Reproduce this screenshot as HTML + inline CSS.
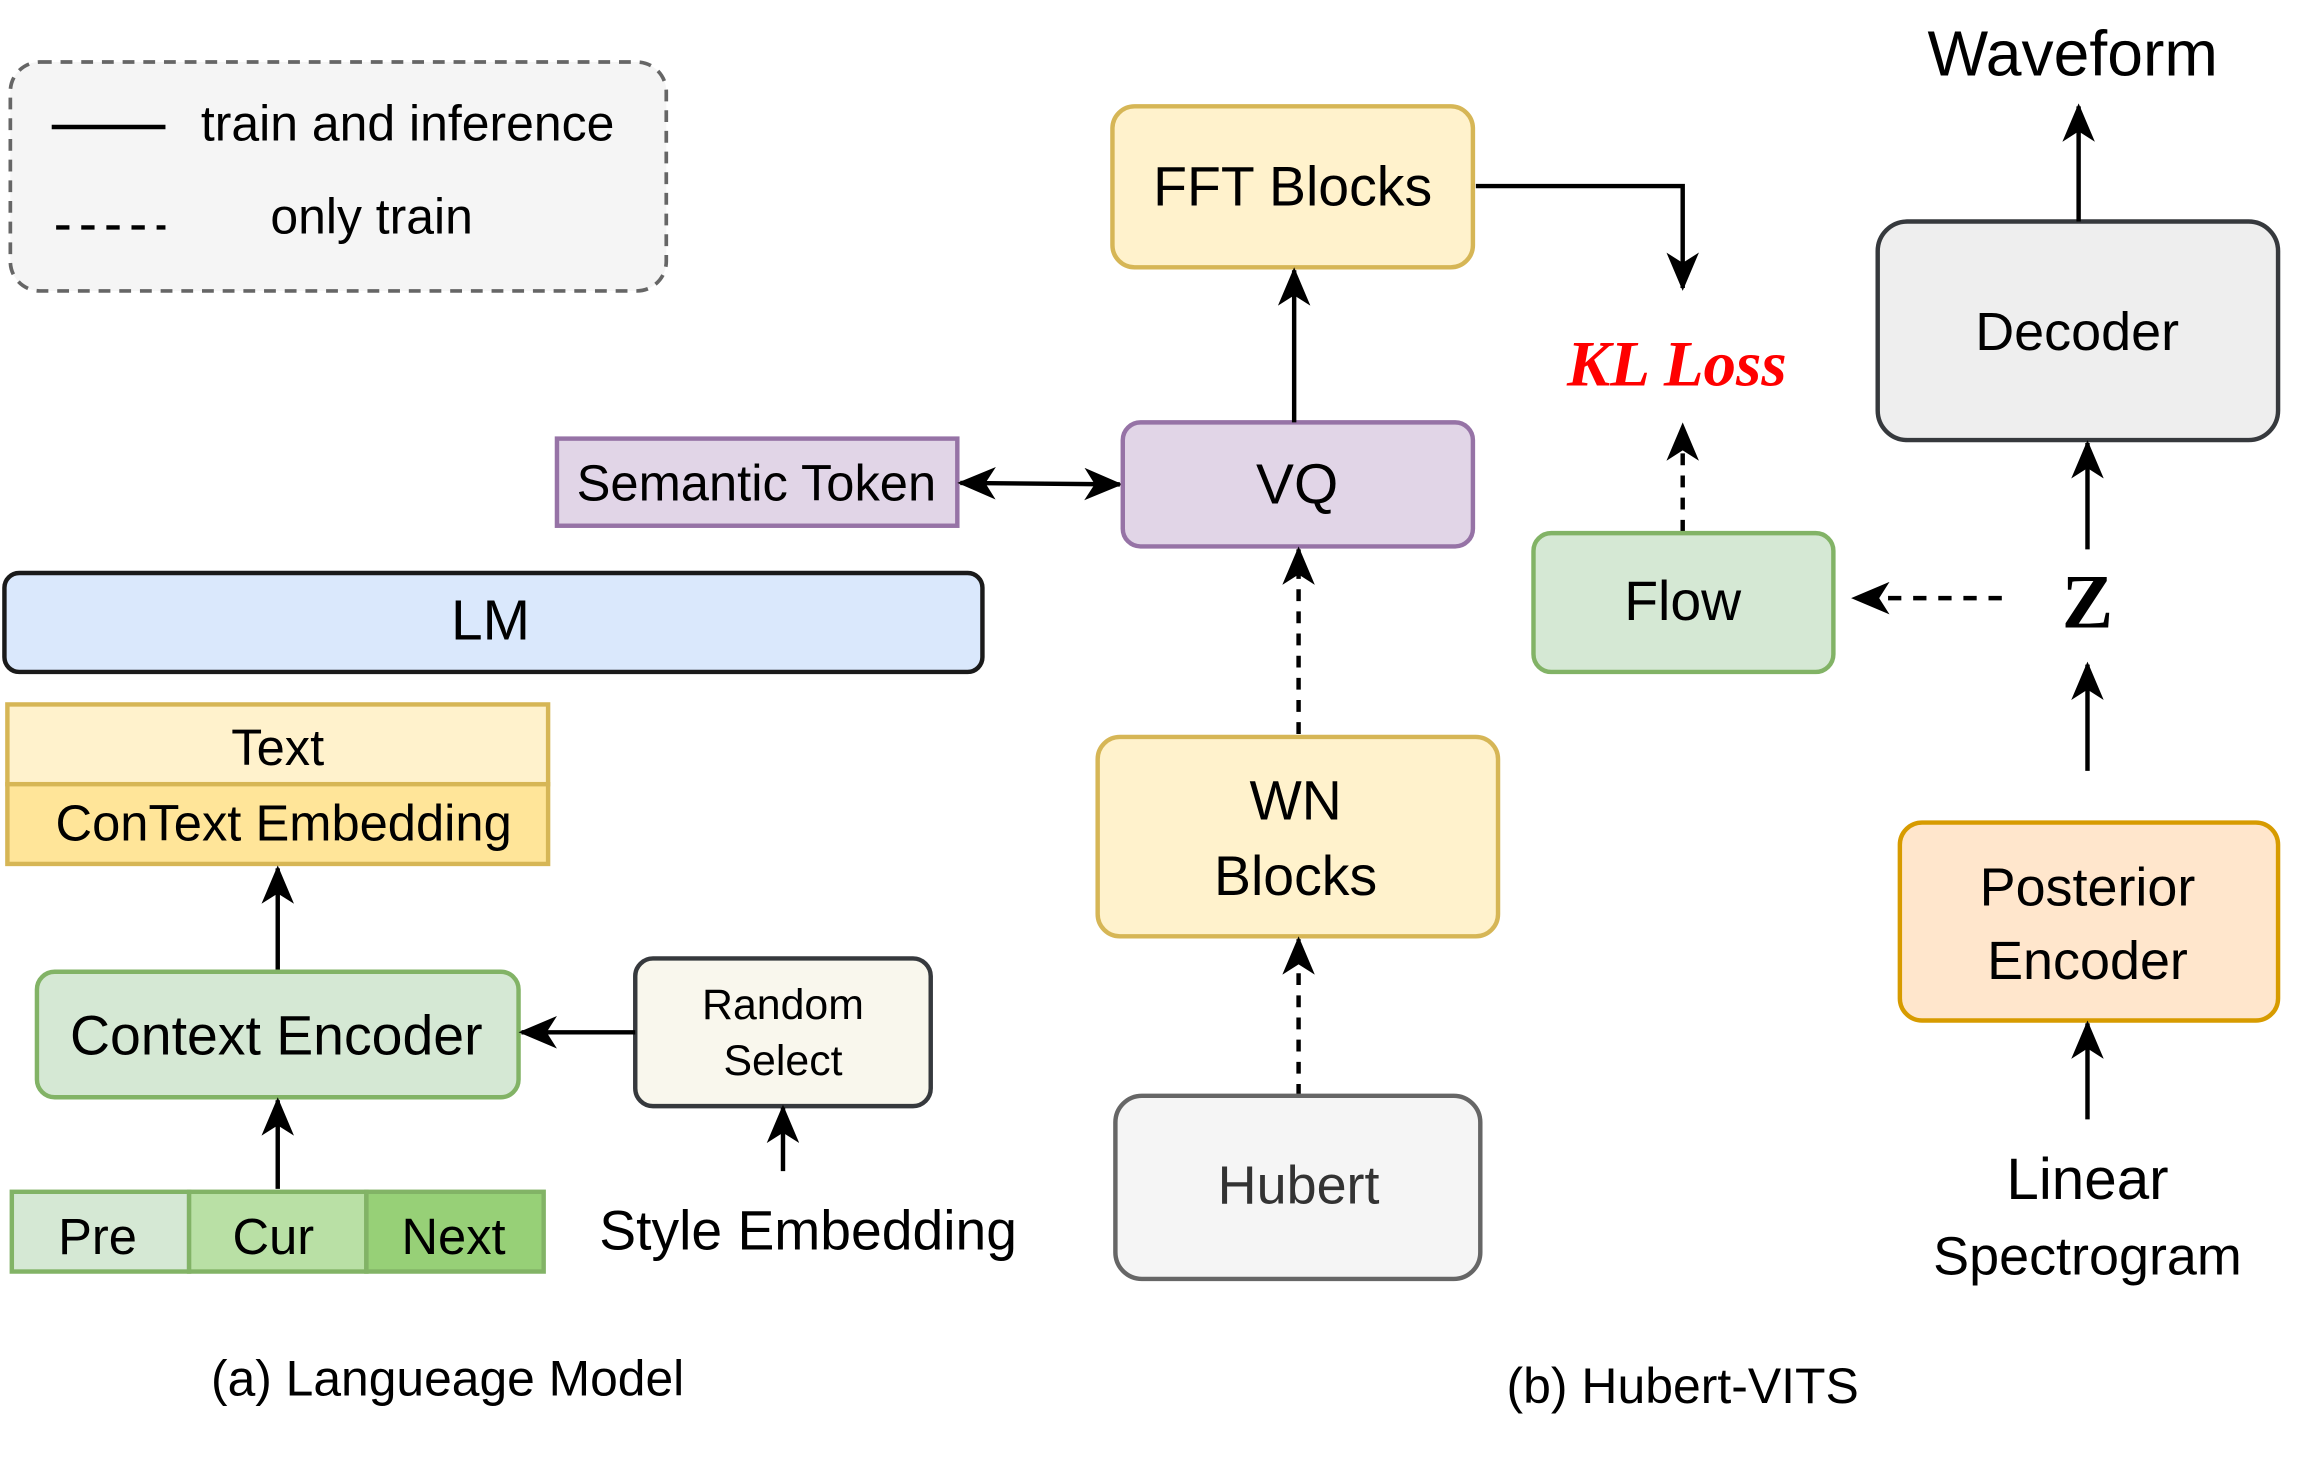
<!DOCTYPE html>
<html><head><meta charset="utf-8"><style>
html,body{margin:0;padding:0;background:#fff;}
svg{display:block;}
text{font-family:"Liberation Sans",Helvetica,Arial,sans-serif;fill:#000;}
</style></head><body>
<svg width="2315" height="1465" viewBox="0 0 1567 992" preserveAspectRatio="none" xmlns="http://www.w3.org/2000/svg">
<defs>
<marker id="a" viewBox="0 0 26 22" refX="24" refY="11" markerWidth="26" markerHeight="22" markerUnits="userSpaceOnUse" orient="auto-start-reverse">
<path d="M0,0 L26,11 L0,22 L7,11 Z" fill="#000"/>
</marker>
</defs>
<rect x="7" y="42" width="444" height="155" rx="20" fill="#f5f5f5" stroke="#666" stroke-width="2.5" stroke-dasharray="8,6"/>
<line x1="35" y1="86" x2="112" y2="86" stroke="#000" stroke-width="3"/>
<text x="136" y="95" font-size="33.8">train and inference</text>
<line x1="38" y1="154" x2="112" y2="154" stroke="#000" stroke-width="3" stroke-dasharray="9,8"/>
<text x="183" y="158" font-size="33.8">only train</text>

<rect x="753" y="72" width="244" height="109" rx="15" fill="#fff2cc" stroke="#d6b656" stroke-width="3"/>
<text x="875" y="139" font-size="37.5" text-anchor="middle">FFT Blocks</text>
<polyline points="999,126 1139,126 1139,195" fill="none" stroke="#000" stroke-width="3" marker-end="url(#a)"/>
<text x="1135" y="261" font-size="44" text-anchor="middle" font-weight="bold" font-style="italic" style="font-family:'Liberation Serif',serif;fill:#f00">KL Loss</text>
<line x1="1139" y1="360" x2="1139" y2="288" stroke="#000" stroke-width="3" stroke-dasharray="8,7" marker-end="url(#a)"/>

<rect x="1271" y="150" width="271" height="148" rx="20" fill="#eeeeee" stroke="#36393d" stroke-width="3"/>
<text x="1406" y="237" font-size="36.5" text-anchor="middle">Decoder</text>
<line x1="1407" y1="150" x2="1407" y2="72" stroke="#000" stroke-width="3" marker-end="url(#a)"/>
<text x="1403" y="51" font-size="43.5" text-anchor="middle">Waveform</text>

<rect x="377" y="297" width="271" height="59" fill="#e1d5e7" stroke="#9673a6" stroke-width="3"/>
<text x="512" y="339" font-size="34.3" text-anchor="middle">Semantic Token</text>
<line x1="650" y1="327" x2="758" y2="328" stroke="#000" stroke-width="3" marker-start="url(#a)" marker-end="url(#a)"/>
<rect x="760" y="286" width="237" height="84" rx="12" fill="#e1d5e7" stroke="#9673a6" stroke-width="3"/>
<text x="878" y="341" font-size="38.5" text-anchor="middle">VQ</text>
<line x1="876" y1="286" x2="876" y2="183" stroke="#000" stroke-width="3" marker-end="url(#a)"/>

<rect x="1038" y="361" width="203" height="94" rx="12" fill="#d5e8d4" stroke="#82b366" stroke-width="3"/>
<text x="1139" y="420" font-size="37.5" text-anchor="middle">Flow</text>
<line x1="1355" y1="405" x2="1255" y2="405" stroke="#000" stroke-width="3" stroke-dasharray="9,8" marker-end="url(#a)"/>
<text x="1413" y="425" font-size="52" text-anchor="middle" font-weight="bold" style="font-family:'Liberation Serif',serif">Z</text>
<line x1="1413" y1="372" x2="1413" y2="300" stroke="#000" stroke-width="3" marker-end="url(#a)"/>
<line x1="1413" y1="522" x2="1413" y2="450" stroke="#000" stroke-width="3" marker-end="url(#a)"/>

<rect x="3" y="388" width="662" height="67" rx="10" fill="#dae8fc" stroke="#1a1a1a" stroke-width="3"/>
<text x="332" y="433" font-size="38.5" text-anchor="middle">LM</text>

<rect x="5" y="477" width="366" height="54" fill="#fff2cc" stroke="#d6b656" stroke-width="3"/>
<rect x="5" y="531" width="366" height="54" fill="#ffe599" stroke="#d6b656" stroke-width="3"/>
<text x="188" y="518" font-size="34.3" text-anchor="middle">Text</text>
<text x="192" y="569" font-size="34.3" text-anchor="middle">ConText Embedding</text>
<line x1="188" y1="657" x2="188" y2="588" stroke="#000" stroke-width="3" marker-end="url(#a)"/>

<rect x="25" y="658" width="326" height="85" rx="12" fill="#d5e8d4" stroke="#82b366" stroke-width="3"/>
<text x="187" y="714" font-size="37.5" text-anchor="middle">Context Encoder</text>
<rect x="430" y="649" width="200" height="100" rx="12" fill="#f9f7ed" stroke="#36393d" stroke-width="3"/>
<text x="530" y="690" font-size="29" text-anchor="middle">Random</text>
<text x="530" y="728" font-size="29" text-anchor="middle">Select</text>
<line x1="430" y1="699" x2="353" y2="699" stroke="#000" stroke-width="3" marker-end="url(#a)"/>
<line x1="530" y1="793" x2="530" y2="750" stroke="#000" stroke-width="3" marker-end="url(#a)"/>
<text x="547" y="846" font-size="37.4" text-anchor="middle">Style Embedding</text>
<line x1="188" y1="805" x2="188" y2="745" stroke="#000" stroke-width="3" marker-end="url(#a)"/>

<rect x="8" y="807" width="120" height="54" fill="#d5e8d4" stroke="#82b366" stroke-width="3"/>
<rect x="128" y="807" width="120" height="54" fill="#b9e0a5" stroke="#82b366" stroke-width="3"/>
<rect x="248" y="807" width="120" height="54" fill="#97d077" stroke="#82b366" stroke-width="3"/>
<text x="66" y="849" font-size="34.3" text-anchor="middle">Pre</text>
<text x="185" y="849" font-size="34.3" text-anchor="middle">Cur</text>
<text x="307" y="849" font-size="34.3" text-anchor="middle">Next</text>

<rect x="743" y="499" width="271" height="135" rx="15" fill="#fff2cc" stroke="#d6b656" stroke-width="3"/>
<text x="877" y="555" font-size="37.5" text-anchor="middle">WN</text>
<text x="877" y="606" font-size="37.5" text-anchor="middle">Blocks</text>
<line x1="879" y1="497" x2="879" y2="372" stroke="#000" stroke-width="3" stroke-dasharray="8,7" marker-end="url(#a)"/>
<line x1="879" y1="742" x2="879" y2="636" stroke="#000" stroke-width="3" stroke-dasharray="8,7" marker-end="url(#a)"/>

<rect x="755" y="742" width="247" height="124" rx="18" fill="#f5f5f5" stroke="#666" stroke-width="3"/>
<text x="879" y="815" font-size="36.5" text-anchor="middle" style="fill:#333">Hubert</text>

<rect x="1286" y="557" width="256" height="134" rx="15" fill="#ffe6cc" stroke="#d79b00" stroke-width="3"/>
<text x="1413" y="613" font-size="36.5" text-anchor="middle">Posterior</text>
<text x="1413" y="663" font-size="36.5" text-anchor="middle">Encoder</text>
<line x1="1413" y1="758" x2="1413" y2="693" stroke="#000" stroke-width="3" marker-end="url(#a)"/>
<text x="1413" y="812" font-size="39.5" text-anchor="middle">Linear</text>
<text x="1413" y="863" font-size="36.5" text-anchor="middle">Spectrogram</text>

<text x="303" y="945" font-size="33.7" text-anchor="middle">(a) Langueage Model</text>
<text x="1139" y="950" font-size="33.8" text-anchor="middle">(b) Hubert-VITS</text>
</svg>
</body></html>
